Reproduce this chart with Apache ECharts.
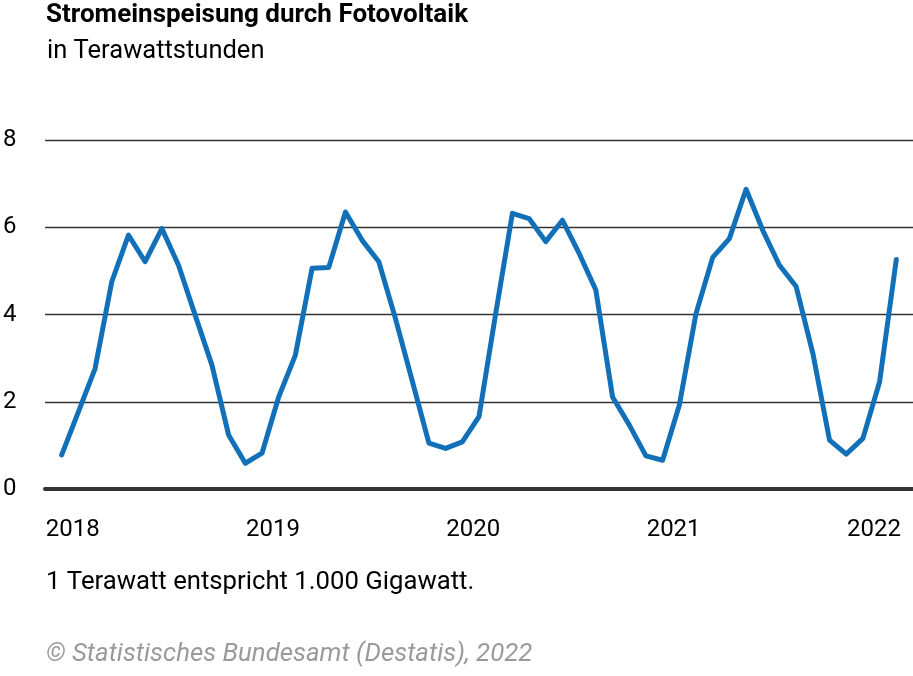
<!DOCTYPE html>
<html>
<head>
<meta charset="utf-8">
<script src="https://cdn.jsdelivr.net/npm/echarts@6/dist/echarts.min.js"></script>
<style>
html,body{margin:0;padding:0;background:#fff;}
#chart{width:913px;height:676px;}
</style>
</head>
<body>
<div id="chart"></div>
<script>
// Monthly values Jan 2018 .. Mar 2022 (TWh)
const values2018 = [0.78, 1.77, 2.76, 4.75, 5.82, 5.21, 5.97, 5.13, 3.98, 2.84, 1.24, 0.59];
const values2019 = [0.82, 2.11, 3.07, 5.06, 5.08, 6.35, 5.70, 5.21, 3.90, 2.48, 1.05, 0.93];
const values2020 = [1.08, 1.66, 4.02, 6.32, 6.20, 5.67, 6.16, 5.40, 4.56, 2.11, 1.47, 0.76];
const values2021 = [0.66, 1.92, 4.02, 5.31, 5.74, 6.87, 5.93, 5.13, 4.64, 3.11, 1.12, 0.80];
const values2022 = [1.16, 2.46, 5.26];
const yearLabels = ['2018', '2019', '2020', '2021', '2022'];
const yTicks = [0, 2, 4, 6, 8];

const allValues = [].concat(values2018, values2019, values2020, values2021, values2022);
const seriesData = allValues.map((v, i) => [i, v]);
const yearPositions = yearLabels.map((_, i) => i * 12);

const FONT = 'Roboto, "Noto Sans", sans-serif';
const chart = echarts.init(document.getElementById('chart'), null, {renderer: 'canvas'});
chart.setOption({
  animation: false,
  backgroundColor: '#ffffff',
  grid: {left: 44, right: 0, top: 140, bottom: 187, containLabel: false},
  xAxis: {
    type: 'value',
    min: -1,
    max: 51,
    axisLine: {show: true, lineStyle: {color: '#333333', width: 4}},
    axisTick: {show: false},
    splitLine: {show: false},
    axisLabel: {
      customValues: yearPositions,
      formatter: (v) => yearLabels[Math.round(v / 12)],
      color: '#000000',
      fontFamily: FONT,
      fontSize: 24,
      margin: 29,
      padding: [0, 0, 0, 22]
    }
  },
  yAxis: {
    type: 'value',
    min: yTicks[0],
    max: yTicks[yTicks.length - 1],
    interval: 2,
    axisLine: {show: false},
    axisTick: {show: false},
    splitLine: {show: true, lineStyle: {color: '#333333', width: 1.3}},
    axisLabel: {
      color: '#000000',
      fontFamily: FONT,
      fontSize: 24,
      align: 'left',
      margin: 42
    }
  },
  series: [{
    type: 'line',
    data: seriesData,
    showSymbol: false,
    lineStyle: {color: '#1170b8', width: 5, join: 'round', cap: 'round'},
    itemStyle: {color: '#1170b8'}
  }],
  graphic: [
    {type: 'text', left: 46, top: 2, style: {text: 'Stromeinspeisung durch Fotovoltaik', font: 'bold 26px ' + FONT, fill: '#000'}},
    {type: 'text', left: 47, top: 39, style: {text: 'in Terawattstunden', font: '25.5px ' + FONT, fill: '#000'}},
    {type: 'text', left: 46, top: 570, style: {text: '1 Terawatt entspricht 1.000 Gigawatt.', font: '25.7px ' + FONT, fill: '#000'}},
    {type: 'text', left: 46, top: 642, style: {text: '© Statistisches Bundesamt (Destatis), 2022', font: 'italic 25.8px ' + FONT, fill: '#9a9a9a'}}
  ]
});
</script>
</body>
</html>
